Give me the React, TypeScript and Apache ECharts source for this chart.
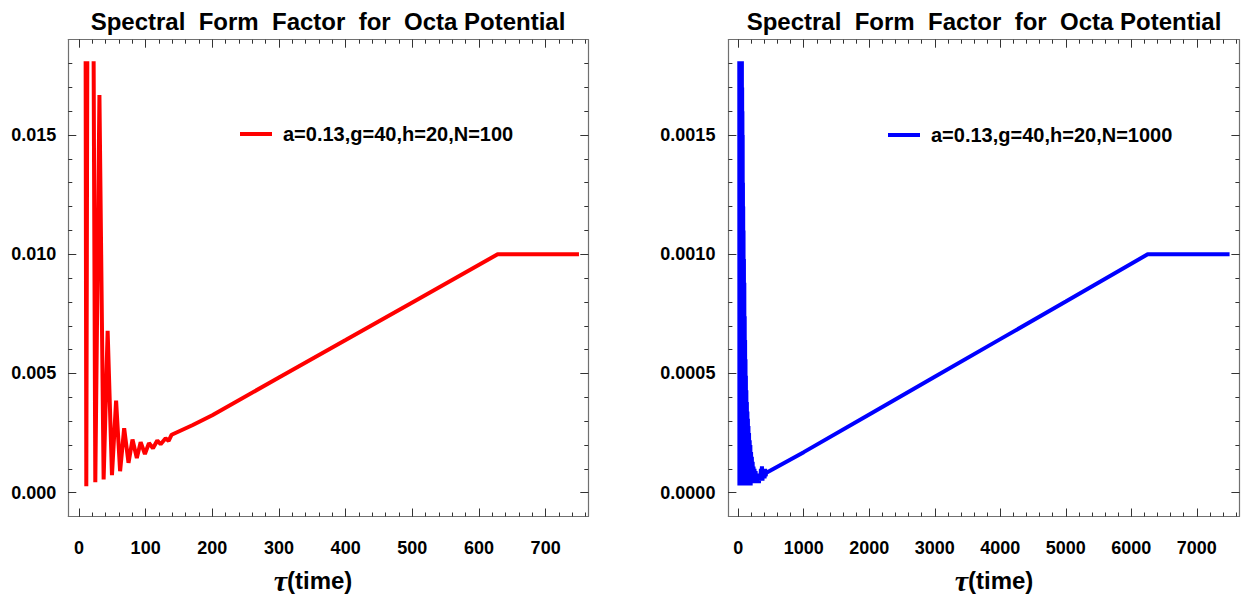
import React, { useEffect, useRef } from "react";
import * as echarts from "echarts";

// ---------- data ----------
const RED_NAME = "a=0.13,g=40,h=20,N=100";
const BLUE_NAME = "a=0.13,g=40,h=20,N=1000";
const TITLE = "Spectral  Form  Factor  for  Octa Potential";

// N=100 : early oscillations (clipped peaks at the plot-range limit 0.0181)
const redOscillation: [number, number | string][] = [
  [10, 0.0181], [11, 0.00027], [12.5, 0.0181], [17, "-"], [22, 0.0181],
  [24.5, 0.00044], [30.7, 0.01668], [37, 0.00055], [43, 0.00679],
  [49.5, 0.00073], [55.7, 0.00386], [61.7, 0.0009], [67.8, 0.0027],
  [74.3, 0.00125], [80.3, 0.00223], [86.8, 0.00145], [92.5, 0.00212],
  [98.9, 0.00162], [105, 0.00208], [111, 0.00186], [117.5, 0.00219],
  [122.5, 0.00203], [130, 0.00228], [134.5, 0.00217], [139, 0.00243],
];
// N=100 : ramp and plateau
const redRamp: [number, number][] = [
  [170, 0.00283], [200, 0.00325], [300, 0.00483], [400, 0.0064],
  [500, 0.00798], [628, 0.01], [750, 0.01],
];

// N=1000 : dense early oscillations (clipped at 0.00181)
const blueOscillation: [number, number][] = [
  [16, 0.00181], [18, 0.00003], [20, 0.00181], [22, 0.00004], [24, 0.00181],
  [26, 0.00003], [28, 0.00181], [30, 0.00004], [32, 0.00181], [34, 0.00003],
  [36, 0.00181], [38, 0.00004], [40, 0.00181], [42, 0.00003], [44, 0.00181],
  [46, 0.00004], [48, 0.00181], [50, 0.00003], [52, 0.00181], [54, 0.00004],
  [56, 0.00181], [58, 0.00003], [60, 0.0017], [62, 0.00004], [64, 0.0016],
  [66, 0.00003], [68, 0.0015], [70, 0.00004], [72, 0.0013], [74, 0.00003],
  [76, 0.0012], [78, 0.00004], [81, 0.0011], [84, 0.00003], [87, 0.00098],
  [90, 0.00004], [93, 0.00088], [96, 0.00003], [99, 0.00074], [102, 0.00004],
  [105, 0.00064], [108, 0.00003], [111, 0.00056], [114, 0.00004], [117, 0.00049],
  [120, 0.00003], [124, 0.00043], [128, 0.00004], [132, 0.00038], [136, 0.00003],
  [140, 0.00034], [144, 0.00004], [148, 0.00031], [152, 0.00003], [156, 0.00028],
  [160, 0.00004], [165, 0.00025], [170, 0.00003], [175, 0.00022], [180, 0.00004],
  [185, 0.0002], [190, 0.00003], [196, 0.00017], [202, 0.00004], [208, 0.00015],
  [214, 0.00004], [220, 0.00013], [226, 0.00004], [233, 0.00011], [240, 0.00004],
  [248, 0.0001], [256, 0.00004], [265, 0.00009], [274, 0.00004], [284, 0.00008],
  [294, 0.00004], [305, 0.00008], [316, 0.00004], [328, 0.00008], [338, 0.00005],
  [346, 0.0001], [354, 0.00005], [362, 0.00011], [370, 0.00005], [378, 0.0001],
  [386, 0.00006], [394, 0.0001], [402, 0.00006], [410, 0.0001], [418, 0.00007],
  [430, 0.000083],
];
// N=1000 : ramp and plateau
const blueRamp: [number, number][] = [
  [1000, 0.00017], [2000, 0.000328], [3000, 0.000486], [4000, 0.000644],
  [5000, 0.000802], [6250, 0.001], [7500, 0.001],
];

// ---------- ticks ----------
const leftXMajor = [0, 100, 200, 300, 400, 500, 600, 700];
const leftXMinorStep = 20;
const leftXMinorMax = 760;
const leftYMajor = [0, 0.005, 0.01, 0.015];
const leftYMinorStep = 0.001;
const leftYMinorCount = 18;

const rightXMajor = [0, 1000, 2000, 3000, 4000, 5000, 6000, 7000];
const rightXMinorStep = 200;
const rightXMinorMax = 7600;
const rightYMajor = [0, 0.0005, 0.001, 0.0015];
const rightYMinorStep = 0.0001;
const rightYMinorCount = 18;

const FONT = "'Liberation Sans', Arial, sans-serif";
const FRAME = "#707070";
const TICK = "#333";

function steps(step: number, count: number) {
  const out: number[] = [];
  for (let i = 0; i <= count; i++) out.push(+(i * step).toPrecision(10));
  return out;
}

function axesFor(
  dim: "x" | "y",
  gridIndex: number,
  min: number,
  max: number,
  major: number[],
  minor: number[],
  fmt: (v: number) => string,
  margin: number
) {
  const positions = dim === "x" ? ["bottom", "top"] : ["left", "right"];
  const list: any[] = [];
  positions.forEach((pos, pi) => {
    list.push({
      type: "value",
      gridIndex,
      position: pos,
      min,
      max,
      splitLine: { show: false },
      axisLine: { show: true, onZero: false, lineStyle: { color: FRAME, width: 1.2 } },
      axisTick: {
        show: true,
        inside: true,
        length: 8,
        customValues: major,
        lineStyle: { color: TICK, width: 1 },
      },
      axisLabel: {
        show: pi === 0,
        customValues: major,
        formatter: fmt,
        margin,
        fontFamily: FONT,
        fontWeight: "bold",
        fontSize: 18,
        color: "#000",
      },
    });
    list.push({
      type: "value",
      gridIndex,
      position: pos,
      min,
      max,
      splitLine: { show: false },
      axisLine: { show: false, onZero: false },
      axisTick: {
        show: true,
        inside: true,
        length: 4,
        customValues: minor,
        lineStyle: { color: TICK, width: 1 },
      },
      axisLabel: { show: false },
    });
  });
  return list;
}

export default function App() {
  const ref = useRef<HTMLDivElement>(null);

  useEffect(() => {
    if (!ref.current) return;
    const chart = echarts.init(ref.current, undefined, { renderer: "svg" });

    const gridL = { left: 68.3, top: 39.7, width: 520, height: 476.8 };
    const gridR = { left: 728.4, top: 39.7, width: 511, height: 476.8 };

    const xAxes = [
      ...axesFor("x", 0, -16, 764, leftXMajor, steps(leftXMinorStep, leftXMinorMax / leftXMinorStep), (v) => String(v), 22),
      ...axesFor("x", 1, -150, 7650, rightXMajor, steps(rightXMinorStep, rightXMinorMax / rightXMinorStep), (v) => String(v), 22),
    ];
    const yAxes = [
      ...axesFor("y", 0, -0.001, 0.019, leftYMajor, steps(leftYMinorStep, leftYMinorCount), (v) => v.toFixed(3), 12),
      ...axesFor("y", 1, -0.0001, 0.0019, rightYMajor, steps(rightYMinorStep, rightYMinorCount), (v) => v.toFixed(4), 13),
    ];

    const legendText = {
      fontFamily: FONT,
      fontWeight: "bold",
      fontSize: 20,
      color: "#000",
      padding: [0, 0, 0, 6],
    };

    const titleStyle = {
      text: TITLE,
      fontFamily: FONT,
      fontWeight: "bold",
      fontSize: 24,
      fill: "#000",
      align: "center",
      verticalAlign: "middle",
    };

    const option: any = {
      animation: false,
      grid: [gridL, gridR],
      xAxis: xAxes,
      yAxis: yAxes,
      legend: [
        {
          left: 240,
          top: 124,
          padding: 0,
          itemWidth: 32,
          itemHeight: 4,
          selectedMode: false,
          data: [{ name: RED_NAME, icon: "rect" }],
          textStyle: legendText,
        },
        {
          left: 888,
          top: 125,
          padding: 0,
          itemWidth: 32,
          itemHeight: 4,
          selectedMode: false,
          data: [{ name: BLUE_NAME, icon: "rect" }],
          textStyle: legendText,
        },
      ],
      graphic: [
        { type: "text", x: 328, y: 21, style: titleStyle },
        { type: "text", x: 984, y: 21, style: titleStyle },
        ...[313, 994].map((cx) => ({
          type: "text",
          x: cx,
          y: 580,
          style: {
            text: "{t|τ}{s|(time)}",
            align: "center",
            verticalAlign: "middle",
            rich: {
              t: {
                fontFamily: "'Liberation Serif', serif",
                fontWeight: "bold",
                fontStyle: "italic",
                fontSize: 30,
                fill: "#000",
              },
              s: {
                fontFamily: FONT,
                fontWeight: "bold",
                fontSize: 24,
                fill: "#000",
              },
            },
          },
        })),
      ],
      series: [
        {
          name: RED_NAME,
          type: "line",
          xAxisIndex: 0,
          yAxisIndex: 0,
          showSymbol: false,
          connectNulls: false,
          color: "#ff0000",
          lineStyle: { color: "#ff0000", width: 4 },
          data: [...redOscillation, ...redRamp],
        },
        {
          name: BLUE_NAME,
          type: "line",
          xAxisIndex: 4,
          yAxisIndex: 4,
          showSymbol: false,
          color: "#0000ff",
          lineStyle: { color: "#0000ff", width: 4 },
          data: [...blueOscillation, ...blueRamp],
        },
      ],
    };

    chart.setOption(option);
    return () => chart.dispose();
  }, []);

  return (
    <div
      ref={ref}
      style={{ position: "fixed", left: 0, top: 0, width: 1241, height: 597, background: "#fff" }}
    />
  );
}
